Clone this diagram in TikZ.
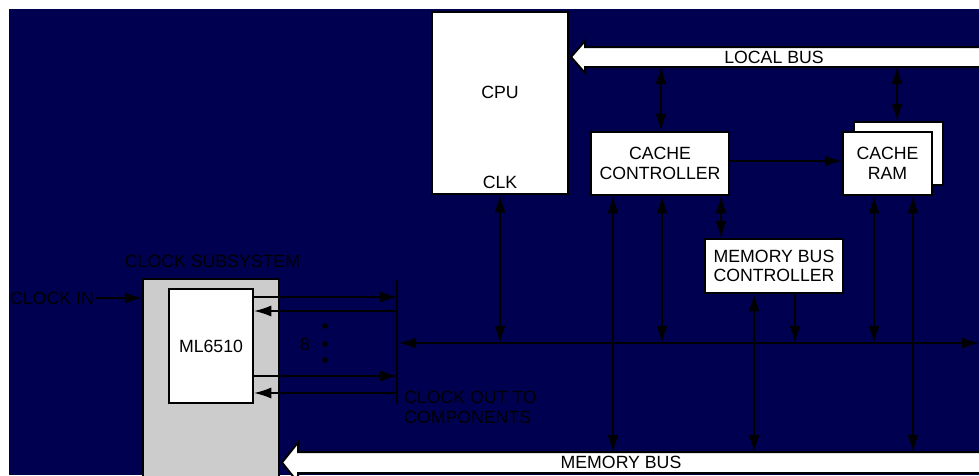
\documentclass[tikz,border=0pt]{standalone}
\usepackage{fontspec}
\setmainfont{Liberation Sans}
\usetikzlibrary{arrows.meta}
\definecolor{navybg}{RGB}{0,0,80}
\definecolor{subgray}{RGB}{204,204,204}
\begin{document}
\begin{tikzpicture}[x=1pt,y=-1pt,
  font=\fontsize{17.7}{19.5}\selectfont,
  box/.style={draw=black,line width=2.5pt,fill=white,inner sep=0pt,align=center},
  lbl/.style={inner sep=0pt,text=black},
  conn/.style={line width=1.1pt,draw=black},
  dbl/.style={conn,{Latex[length=17pt,width=11pt]}-{Latex[length=17pt,width=11pt]}},
  one/.style={conn,-{Latex[length=17pt,width=11pt]}},
  bus/.style={draw=black,line width=2pt,fill=white,line join=miter}
]
\useasboundingbox (0,0) rectangle (979,475);
\fill[white] (0,0) rectangle (979,475);
\clip (0,0) rectangle (979,475);
\fill[navybg] (9,9) rectangle (979,475);

% buses
\draw[bus] (990,47) -- (585,47) -- (585,41) -- (571,57) -- (585,73) -- (585,67) -- (990,67) -- cycle;
\draw[bus] (990,452) -- (298,452) -- (298,442.5) -- (282,462.5) -- (298,482.5) -- (298,473) -- (990,473) -- cycle;
\node[lbl] (lbus) at (774,57) {LOCAL BUS};
\node[lbl] (mbus) at (621,462.5) {MEMORY BUS};
\coordinate (lbbot) at (0,67);
\coordinate (mbtop) at (0,452);

% boxes
\node[box,minimum width=136pt,minimum height=182pt] (cpu) at (500,103) {};
\node[lbl] (cputxt) at (500,92) {CPU};
\node[lbl] (clk) at (500,182) {CLK};
\node[box,minimum width=138pt,minimum height=63pt] (cc) at (660,163.5) {CACHE\\CONTROLLER};
\node[box,minimum width=89pt,minimum height=63pt] (crb) at (898.5,153.5) {};
\node[box,minimum width=89pt,minimum height=63pt] (cr) at (887.5,163.5) {CACHE\\RAM};
\node[box,minimum width=138pt,minimum height=54pt] (mbc) at (774,266) {MEMORY BUS\\CONTROLLER};

% clock subsystem
\node[draw=black,line width=2.5pt,fill=subgray,inner sep=0pt,minimum width=136pt,minimum height=210pt] (css) at (211,384) {};
\node[box,minimum width=84pt,minimum height=114pt] (ml) at (211,346) {ML6510};
\node[lbl] (cslbl) at (212.5,261) {CLOCK SUBSYSTEM};
\node[lbl,anchor=west] (clkin) at (10,298) {CLOCK IN};
\draw[one] ([xshift=2pt]clkin.east) -- (css.west |- clkin.east);

% clock distribution
\coordinate (bart) at (397,280);
\coordinate (barb) at (397,404);
\draw[line width=2.5pt] (bart) -- (barb);
\coordinate (r1) at (0,297);
\coordinate (r2) at (0,311);
\coordinate (r3) at (0,376);
\coordinate (r4) at (0,393);
\draw[one] (ml.east |- r1) -- (bart |- r1);
\draw[one] (bart |- r2) -- (ml.east |- r2);
\draw[one] (ml.east |- r3) -- (bart |- r3);
\draw[one] (bart |- r4) -- (ml.east |- r4);
\node[lbl] (eight) at (305,344) {8};
\fill (325,326) circle (2.8pt);
\fill (325,344) circle (2.8pt);
\fill (325,360) circle (2.8pt);
\node[lbl,anchor=west] (co1) at (404,397) {CLOCK OUT TO};
\node[lbl,anchor=west] (co2) at (404,417) {COMPONENTS};

\coordinate (ckl) at (399,343);
\coordinate (ckr) at (979,343);
\draw[dbl] (ckl) -- (ckr);

% vertical connectors
\coordinate (x613) at (613,0);
\coordinate (x661) at (661,0);
\coordinate (x662) at (662,0);
\coordinate (x721) at (721,0);
\coordinate (x754) at (754,0);
\coordinate (x795) at (795,0);
\coordinate (x874) at (874,0);
\coordinate (x897) at (897,0);
\coordinate (x913) at (913,0);

\draw[dbl] (cpu.south) -- (cpu.south |- ckl);
\draw[dbl] (lbbot -| x661) -- (cc.north -| x661);
\draw[dbl] (lbbot -| x897) -- (crb.north -| x897);
\draw[one] ([yshift=2.5pt]cc.east) -- ([yshift=2.5pt]cr.west);
\draw[dbl] (cc.south -| x613) -- (x613 |- mbtop);
\draw[dbl] (cc.south -| x662) -- (x662 |- ckl);
\draw[dbl] (cc.south -| x721) -- (mbc.north -| x721);
\draw[dbl] (mbc.south -| x754) -- (x754 |- mbtop);
\draw[one] (mbc.south -| x795) -- (x795 |- ckl);
\draw[dbl] (cr.south -| x874) -- (x874 |- ckl);
\draw[dbl] (cr.south -| x913) -- (x913 |- mbtop);
\end{tikzpicture}
\end{document}
